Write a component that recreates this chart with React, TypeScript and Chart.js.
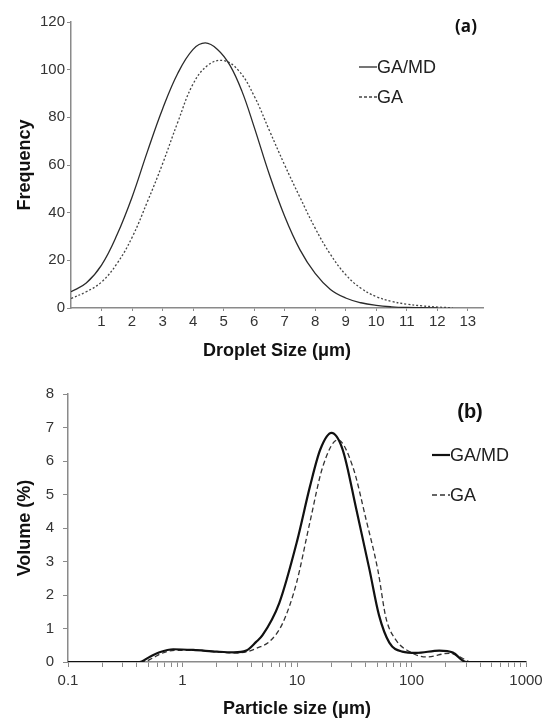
import React, { useEffect, useRef } from "react";
import { Chart, registerables } from "chart.js";

Chart.register(...registerables);

// ---------- Panel (a): droplet size distribution ----------
const dropletSizeGAMD = [0, 0.5, 1, 1.5, 2, 2.5, 3, 3.5, 4, 4.4, 4.8, 5.2, 5.6, 6, 6.5, 7, 7.5, 8, 8.5, 9, 9.5, 10, 10.5, 11, 11.5, 12];
const frequencyGAMD = [6.8, 10.5, 18, 30.5, 46.5, 65.5, 83.5, 98.5, 108.5, 111.2, 108.5, 102, 91, 76, 56, 38.5, 24.5, 14.5, 7.8, 4.2, 2.2, 1.1, 0.5, 0.2, 0.1, 0];
const dropletSizeGA = [0, 0.5, 1, 1.5, 2, 2.5, 3, 3.5, 4, 4.5, 5, 5.5, 6, 6.5, 7, 7.5, 8, 8.5, 9, 9.5, 10, 10.5, 11, 11.5, 12, 12.5];
const frequencyGA = [4, 6.8, 10.9, 18.5, 29.6, 44.5, 60.5, 78, 94, 102, 103.8, 99.5, 89, 74.5, 60, 46.5, 33.5, 22.5, 14, 8.3, 4.8, 2.8, 1.6, 0.9, 0.4, 0.1];
const xTicksA = [1, 2, 3, 4, 5, 6, 7, 8, 9, 10, 11, 12, 13];

// ---------- Panel (b): particle size distribution ----------
const particleSizeGAMD = [0.1, 0.42, 0.52, 0.63, 0.83, 1.24, 2, 2.8, 3.6, 4.4, 5, 7, 10, 13, 16, 20, 25, 33, 43, 52, 64, 83, 110, 175, 230, 300, 1000];
const volumeGAMD = [0, 0, 0.16, 0.29, 0.38, 0.36, 0.31, 0.29, 0.34, 0.6, 0.8, 1.76, 3.6, 5.25, 6.35, 6.84, 6.35, 4.55, 2.75, 1.4, 0.58, 0.31, 0.27, 0.34, 0.28, 0, 0];
const particleSizeGA = [0.1, 0.45, 0.55, 0.65, 0.85, 1.3, 2, 2.8, 3.6, 4.5, 5.8, 7.5, 9.9, 12.9, 16.8, 22.7, 30.7, 40.2, 50.8, 60, 73, 96, 134, 214, 263, 330, 1000];
const volumeGA = [0, 0, 0.12, 0.25, 0.35, 0.35, 0.3, 0.27, 0.3, 0.42, 0.62, 1.16, 2.36, 4.14, 5.83, 6.63, 5.83, 4.24, 2.75, 1.3, 0.66, 0.31, 0.15, 0.26, 0.16, 0, 0];
const majorTicksB = [0.1, 1, 10, 100, 1000];
const minorMultipliersB = [2, 3, 4, 5, 6, 7, 8, 9];

const seriesNames = ["GA/MD", "GA"];

const FONT = "'Liberation Sans', Arial, sans-serif";
const AXIS = "#8a8a8a";
const TEXT = "#333333";

const overlayPlugin = {
  id: "overlay",
  afterDraw(chart: any, _args: any, opts: any) {
    const ctx = chart.ctx;
    ctx.save();
    ctx.fillStyle = "#111";
    ctx.font = opts.labelFont;
    ctx.textAlign = "center";
    ctx.textBaseline = "middle";
    ctx.fillText(opts.label, opts.labelX, opts.labelY);
    chart.data.datasets.forEach((ds: any, i: number) => {
      const y = opts.legendY + i * opts.legendGap;
      ctx.beginPath();
      ctx.setLineDash(opts.legendDash[i] || []);
      ctx.lineWidth = ds.borderWidth;
      ctx.strokeStyle = ds.borderColor;
      ctx.moveTo(opts.legendX, y);
      ctx.lineTo(opts.legendX + opts.lineLen, y);
      ctx.stroke();
      ctx.setLineDash([]);
      ctx.font = opts.legendFont;
      ctx.textAlign = "left";
      ctx.fillStyle = "#222";
      ctx.fillText(ds.label, opts.legendX + opts.lineLen, y + 1);
    });
    ctx.restore();
  },
};

function toPoints(xs: number[], ys: number[]) {
  return xs.map((x, i) => ({ x, y: ys[i] }));
}

export default function App() {
  const refA = useRef<HTMLCanvasElement>(null);
  const refB = useRef<HTMLCanvasElement>(null);

  useEffect(() => {
    document.body.style.margin = "0";
    const tickFont = { family: FONT, size: 15 };
    const titleFont = { family: FONT, size: 18, weight: "bold" as const, lineHeight: 1 };

    const chartA = new Chart(refA.current!, {
      type: "line",
      data: {
        datasets: [
          {
            label: seriesNames[0],
            data: toPoints(dropletSizeGAMD, frequencyGAMD),
            borderColor: "#2a2a2a",
            borderWidth: 1.3,
            pointRadius: 0,
            tension: 0.4,
            fill: false,
          },
          {
            label: seriesNames[1],
            data: toPoints(dropletSizeGA, frequencyGA),
            borderColor: "#444444",
            borderWidth: 1.3,
            borderDash: [2, 2],
            pointRadius: 0,
            tension: 0.4,
            fill: false,
          },
        ],
      },
      options: {
        animation: false,
        responsive: false,
        layout: { padding: { top: 22, right: 65, left: 0, bottom: 0 } },
        plugins: {
          legend: { display: false },
          tooltip: { enabled: false },
          overlay: {
            label: "(a)",
            labelFont: `bold 17px 'Open Sans', ${FONT}`,
            labelX: 466,
            labelY: 27,
            legendX: 359,
            legendY: 67,
            legendGap: 30,
            lineLen: 18,
            legendDash: [[], [3, 2]],
            legendFont: `18px ${FONT}`,
          },
        } as any,
        scales: {
          x: {
            type: "linear",
            min: 0,
            max: 13.5,
            afterBuildTicks: (s: any) => {
              s.ticks = xTicksA.map((v) => ({ value: v }));
            },
            afterFit: (s: any) => {
              s.height = 52;
            },
            border: { display: true, color: AXIS, width: 1.5 },
            grid: { display: true, drawOnChartArea: false, drawTicks: true, tickLength: 3, color: AXIS },
            ticks: { font: tickFont, color: TEXT, padding: 2, maxRotation: 0, autoSkip: false },
            title: { display: true, text: "Droplet Size (μm)", font: titleFont, color: "#111", padding: { top: 0, bottom: 0 } },
          },
          y: {
            min: 0,
            max: 120,
            ticks: { stepSize: 20, font: tickFont, color: TEXT, padding: 2 },
            afterFit: (s: any) => {
              s.width = 71;
            },
            border: { display: true, color: AXIS, width: 1.5 },
            grid: { display: true, drawOnChartArea: false, drawTicks: true, tickLength: 4, color: AXIS },
            title: { display: true, text: "Frequency", font: titleFont, color: "#111", padding: { top: 16, bottom: 0 } },
          },
        },
      } as any,
      plugins: [overlayPlugin],
    });

    const ticksB: number[] = [];
    majorTicksB.forEach((m, i) => {
      ticksB.push(m);
      if (i < majorTicksB.length - 1) minorMultipliersB.forEach((k) => ticksB.push(m * k));
    });
    const majorSet = new Set(majorTicksB);

    const chartB = new Chart(refB.current!, {
      type: "line",
      data: {
        datasets: [
          {
            label: seriesNames[0],
            data: toPoints(particleSizeGAMD, volumeGAMD),
            borderColor: "#111111",
            borderWidth: 2.2,
            pointRadius: 0,
            cubicInterpolationMode: "monotone",
            fill: false,
          },
          {
            label: seriesNames[1],
            data: toPoints(particleSizeGA, volumeGA),
            borderColor: "#333333",
            borderWidth: 1.3,
            borderDash: [5, 3],
            pointRadius: 0,
            cubicInterpolationMode: "monotone",
            fill: false,
          },
        ],
      },
      options: {
        animation: false,
        responsive: false,
        layout: { padding: { top: 34, right: 22, left: 0, bottom: 0 } },
        plugins: {
          legend: { display: false },
          tooltip: { enabled: false },
          overlay: {
            label: "(b)",
            labelFont: `bold 20px ${FONT}`,
            labelX: 470,
            labelY: 52,
            legendX: 432,
            legendY: 95,
            legendGap: 40,
            lineLen: 18,
            legendDash: [[], [5, 3]],
            legendFont: `18px ${FONT}`,
          },
        } as any,
        scales: {
          x: {
            type: "logarithmic",
            min: 0.1,
            max: 1000,
            afterBuildTicks: (s: any) => {
              s.ticks = ticksB.map((v) => ({ value: v, major: majorSet.has(v) }));
            },
            afterFit: (s: any) => {
              s.height = 56;
            },
            border: { display: true, color: AXIS, width: 1.5 },
            grid: { display: true, drawOnChartArea: false, drawTicks: true, tickLength: 5, color: AXIS },
            ticks: {
              font: tickFont,
              color: TEXT,
              padding: 5,
              maxRotation: 0,
              autoSkip: false,
              callback: (v: any) => (majorSet.has(v) ? String(v) : ""),
            },
            title: { display: true, text: "Particle size (μm)", font: titleFont, color: "#111", padding: { top: 0, bottom: 0 } },
          },
          y: {
            min: 0,
            max: 8,
            ticks: { stepSize: 1, font: tickFont, color: TEXT, padding: 9 },
            afterFit: (s: any) => {
              s.width = 68;
            },
            border: { display: true, color: AXIS, width: 1.5 },
            grid: { display: true, drawOnChartArea: false, drawTicks: true, tickLength: 5, color: AXIS },
            title: { display: true, text: "Volume (%)", font: titleFont, color: "#111", padding: { top: 16, bottom: 0 } },
          },
        },
      } as any,
      plugins: [overlayPlugin],
    });

    return () => {
      chartA.destroy();
      chartB.destroy();
    };
  }, []);

  return (
    <div style={{ position: "relative", width: 548, height: 718, background: "#fff" }}>
      <canvas ref={refA} width={548} height={360} style={{ position: "absolute", left: 0, top: 0 }} />
      <canvas ref={refB} width={548} height={358} style={{ position: "absolute", left: 0, top: 360 }} />
    </div>
  );
}
